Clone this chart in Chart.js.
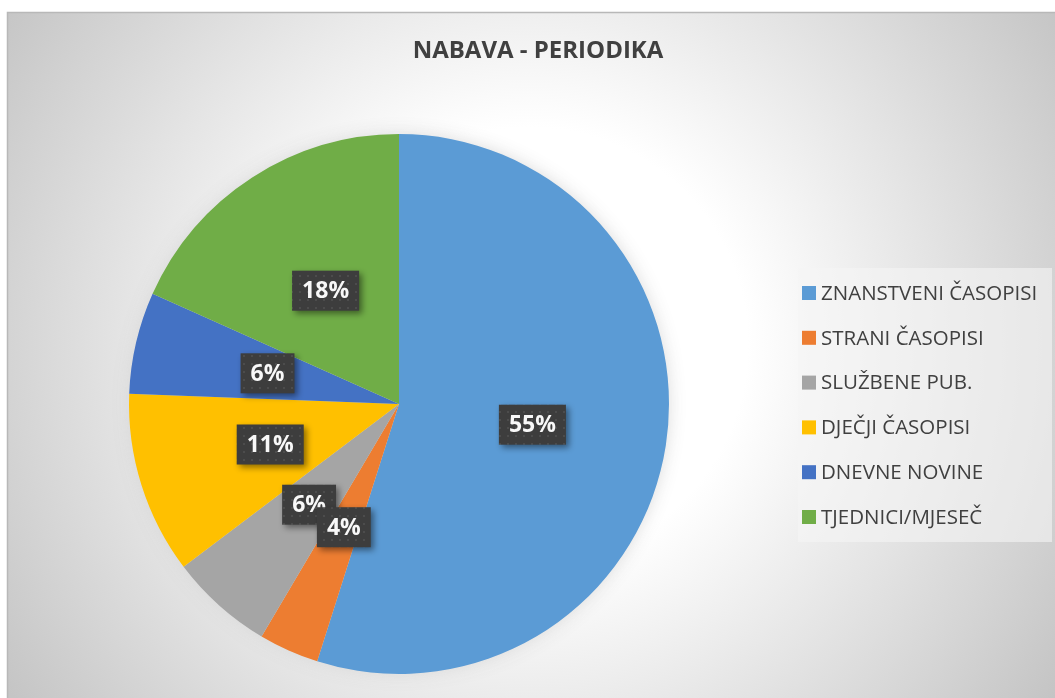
<!DOCTYPE html>
<html>
<head>
<meta charset="utf-8">
<title>NABAVA - PERIODIKA</title>
<script src="https://cdn.jsdelivr.net/npm/chart.js@4.4.3/dist/chart.umd.min.js"></script>
<style>
  html, body { margin: 0; padding: 0; background: #fff; }
  #wrap { width: 1055px; height: 698px; }
</style>
</head>
<body>
<div id="wrap"><canvas id="pie" width="1055" height="698"></canvas></div>
<script>
// chart data (share in %)
const title = 'NABAVA - PERIODIKA';
const categories = ['ZNANSTVENI ČASOPISI', 'STRANI ČASOPISI', 'SLUŽBENE PUB.', 'DJEČJI ČASOPISI', 'DNEVNE NOVINE', 'TJEDNICI/MJESEČ'];
const shares = [54.9, 3.6, 6.2, 10.9, 6.1, 18.3];
const colors = ['#5B9BD5', '#ED7D31', '#A5A5A5', '#FFC000', '#4472C4', '#70AD47'];

const textColor = '#404040';
const fontFamily = '"Open Sans", "DejaVu Sans", sans-serif';

// chart background: white page, framed radial gradient
const backgroundPlugin = {
    id: 'background',
    beforeDraw(chart) {
        const ctx = chart.ctx;
        const w = chart.width, h = chart.height;
        ctx.save();
        ctx.fillStyle = '#fff';
        ctx.fillRect(0, 0, w, h);
        const g = ctx.createRadialGradient(530, 345, 0, 530, 345, 640);
        g.addColorStop(0, '#ffffff');
        g.addColorStop(0.34, '#ffffff');
        g.addColorStop(1, '#c3c3c3');
        ctx.fillStyle = g;
        ctx.fillRect(7, 12, w - 7, h - 12);
        ctx.strokeStyle = '#b8b8b8';
        ctx.lineWidth = 1.5;
        ctx.beginPath();
        ctx.moveTo(7.5, h);
        ctx.lineTo(7.5, 12.5);
        ctx.lineTo(w, 12.5);
        ctx.stroke();
        ctx.restore();
    }
};

// soft glow/shadow around the pie
const pieShadowPlugin = {
    id: 'pieShadow',
    beforeDatasetsDraw(chart) {
        const arc = chart.getDatasetMeta(0).data[0];
        if (!arc) return;
        const ctx = chart.ctx;
        ctx.save();
        ctx.shadowColor = 'rgba(214,214,214,0.95)';
        ctx.shadowBlur = 18;
        ctx.fillStyle = '#ddd';
        ctx.beginPath();
        ctx.arc(arc.x, arc.y, arc.outerRadius - 1, 0, Math.PI * 2);
        ctx.fill();
        ctx.restore();
    }
};

// dark dotted label boxes like the Excel data label style
let dotPattern = null;
function getPattern(ctx) {
    if (dotPattern) return dotPattern;
    const c = document.createElement('canvas');
    c.width = 8; c.height = 8;
    const p = c.getContext('2d');
    p.fillStyle = '#3d3d3d';
    p.fillRect(0, 0, 8, 8);
    p.fillStyle = '#4c4c4c';
    p.fillRect(3, 3, 2, 2);
    dotPattern = ctx.createPattern(c, 'repeat');
    return dotPattern;
}

const labelsPlugin = {
    id: 'sliceLabels',
    afterDatasetsDraw(chart) {
        const ctx = chart.ctx;
        const meta = chart.getDatasetMeta(0);
        const data = chart.data.datasets[0].data;
        const total = data.reduce((a, b) => a + b, 0);
        ctx.save();
        ctx.font = 'bold 23px ' + fontFamily;
        ctx.textAlign = 'center';
        ctx.textBaseline = 'middle';
        // drawn back to front so the small orange label sits on top
        for (let i = meta.data.length - 1; i >= 0; i--) {
            const pt = meta.data[i].getCenterPoint();
            const txt = Math.round(data[i] / total * 100) + '%';
            const bw = ctx.measureText(txt).width + 20;
            const bh = 40;
            ctx.save();
            ctx.shadowColor = 'rgba(0,0,0,0.45)';
            ctx.shadowBlur = 6;
            ctx.shadowOffsetX = 3;
            ctx.shadowOffsetY = 3;
            ctx.fillStyle = getPattern(ctx);
            ctx.fillRect(pt.x - bw / 2, pt.y - bh / 2, bw, bh);
            ctx.restore();
            ctx.fillStyle = '#f8f8f8';
            ctx.fillText(txt, pt.x, pt.y + 1);
        }
        ctx.restore();
    }
};

// title and legend drawn in the Excel positions
const titleLegendPlugin = {
    id: 'titleLegend',
    afterDraw(chart) {
        const ctx = chart.ctx;
        ctx.save();
        ctx.fillStyle = textColor;
        ctx.font = 'bold 24px ' + fontFamily;
        ctx.textAlign = 'center';
        ctx.textBaseline = 'middle';
        ctx.fillText(title, 538, 51);

        ctx.fillStyle = 'rgba(245,245,245,0.6)';
        ctx.fillRect(798, 268, 254, 274);

        ctx.font = '20.5px ' + fontFamily;
        ctx.textAlign = 'left';
        const ds = chart.data.datasets[0];
        chart.data.labels.forEach((lab, i) => {
            const y = 293 + i * 44.8;
            ctx.fillStyle = ds.backgroundColor[i];
            ctx.fillRect(802, y - 7, 14, 14);
            ctx.fillStyle = textColor;
            ctx.fillText(lab, 821, y + 1);
        });
        ctx.restore();
    }
};

new Chart(document.getElementById('pie'), {
    type: 'pie',
    data: {
        labels: categories,
        datasets: [{
            data: shares,
            backgroundColor: colors,
            borderWidth: 0
        }]
    },
    options: {
        responsive: false,
        devicePixelRatio: 1,
        animation: false,
        layout: { padding: { left: 129, right: 386, top: 134, bottom: 24 } },
        plugins: {
            legend: { display: false },
            title: { display: false },
            tooltip: { enabled: false }
        }
    },
    plugins: [backgroundPlugin, pieShadowPlugin, labelsPlugin, titleLegendPlugin]
});
</script>
</body>
</html>
